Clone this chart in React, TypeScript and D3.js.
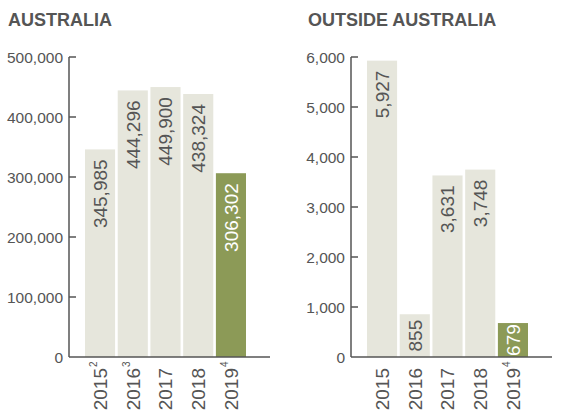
import React, { useRef, useEffect } from "react";
import * as d3 from "d3";

// Chart data
const years = ["2015", "2016", "2017", "2018", "2019"];
const australiaValues = [345985, 444296, 449900, 438324, 306302];
const australiaNotes = ["2", "3", "", "", "4"];
const australiaTicks = [0, 100000, 200000, 300000, 400000, 500000];
const outsideValues = [5927, 855, 3631, 3748, 679];
const outsideNotes = ["", "", "", "", "4"];
const outsideTicks = [0, 1000, 2000, 3000, 4000, 5000, 6000];

const WIDTH = 562;
const HEIGHT = 412;
const BAR_LIGHT = "#e6e6dc";
const BAR_HIGHLIGHT = "#8c9a57";
const TEXT = "#555555";
const AXIS = "#555555";
const FONT = "'Liberation Sans', Arial, sans-serif";

type Panel = {
  title: string;
  values: number[];
  notes: string[];
  ticks: number[];
  left: number;
  titleX: number;
};

const panels: Panel[] = [
  { title: "AUSTRALIA", values: australiaValues, notes: australiaNotes, ticks: australiaTicks, left: 69, titleX: 8 },
  { title: "OUTSIDE AUSTRALIA", values: outsideValues, notes: outsideNotes, ticks: outsideTicks, left: 351, titleX: 308 },
];

const App: React.FC = () => {
  const svgRef = useRef<SVGSVGElement>(null);

  useEffect(() => {
    if (!svgRef.current) return;
    const svg = d3.select(svgRef.current);
    svg.selectAll("*").remove();

    const top = 57;
    const bottom = 357;
    const fmt = d3.format(",");

    panels.forEach((p) => {
      const g = svg.append("g");
      const maxTick = p.ticks[p.ticks.length - 1];

      const y = d3.scaleLinear().domain([0, maxTick]).range([bottom, top]);
      const x = d3
        .scaleBand()
        .domain(years)
        .range([p.left + 16, p.left + 177])
        .paddingInner(0.08);

      // Title
      g.append("text")
        .attr("x", p.titleX)
        .attr("y", 26)
        .attr("fill", TEXT)
        .attr("font-family", FONT)
        .attr("font-weight", "bold")
        .attr("font-size", 18)
        .text(p.title);

      // Bars
      g.selectAll("rect.bar")
        .data(p.values)
        .enter()
        .append("rect")
        .attr("class", "bar")
        .attr("x", (_, i) => x(years[i]) ?? 0)
        .attr("width", x.bandwidth())
        .attr("y", (d) => y(d))
        .attr("height", (d) => bottom - y(d))
        .attr("fill", (_, i) => (i === years.length - 1 ? BAR_HIGHLIGHT : BAR_LIGHT));

      // Value labels inside bars
      p.values.forEach((v, i) => {
        const cx = (x(years[i]) ?? 0) + x.bandwidth() / 2;
        const t = g
          .append("text")
          .attr("fill", i === years.length - 1 ? "#ffffff" : TEXT)
          .attr("font-family", FONT)
          .attr("font-size", 19)
          .attr("text-anchor", "end")
          .attr("dy", "0.36em")
          .text(fmt(v));
        const len = (t.node() as SVGTextElement).getComputedTextLength();
        const barH = bottom - y(v);
        const ty = y(v) + Math.min(10, (barH - len) / 2);
        t.attr("transform", `translate(${cx},${ty}) rotate(-90)`);
      });

      // Axis
      g.append("line")
        .attr("x1", p.left)
        .attr("x2", p.left)
        .attr("y1", top)
        .attr("y2", bottom)
        .attr("stroke", AXIS)
        .attr("stroke-width", 1.5);
      g.append("line")
        .attr("x1", p.left)
        .attr("x2", p.left + 201)
        .attr("y1", bottom)
        .attr("y2", bottom)
        .attr("stroke", AXIS)
        .attr("stroke-width", 1.5);

      p.ticks.forEach((tk) => {
        if (tk > 0) {
          g.append("line")
            .attr("x1", p.left)
            .attr("x2", p.left + 7)
            .attr("y1", y(tk))
            .attr("y2", y(tk))
            .attr("stroke", AXIS)
            .attr("stroke-width", 1.5);
        }
        g.append("text")
          .attr("x", p.left - 6)
          .attr("y", y(tk))
          .attr("dy", "0.36em")
          .attr("text-anchor", "end")
          .attr("fill", TEXT)
          .attr("font-family", FONT)
          .attr("font-size", 15.5)
          .text(fmt(tk));
      });

      // Year labels with footnote superscripts
      years.forEach((yr, i) => {
        const cx = (x(yr) ?? 0) + x.bandwidth() / 2;
        g.append("text")
          .attr("transform", `translate(${cx},368) rotate(-90)`)
          .attr("text-anchor", "end")
          .attr("dy", "0.36em")
          .attr("fill", TEXT)
          .attr("font-family", FONT)
          .attr("font-size", 19)
          .text(yr);
        if (p.notes[i]) {
          g.append("text")
            .attr("transform", `translate(${cx},368) rotate(-90)`)
            .attr("text-anchor", "start")
            .attr("x", 1)
            .attr("y", -3)
            .attr("fill", TEXT)
            .attr("font-family", FONT)
            .attr("font-size", 10)
            .text(p.notes[i]);
        }
      });
    });
  }, []);

  return (
    <svg
      ref={svgRef}
      width={WIDTH}
      height={HEIGHT}
      style={{ position: "absolute", left: 0, top: 0, background: "#fff" }}
    />
  );
};

export default App;
